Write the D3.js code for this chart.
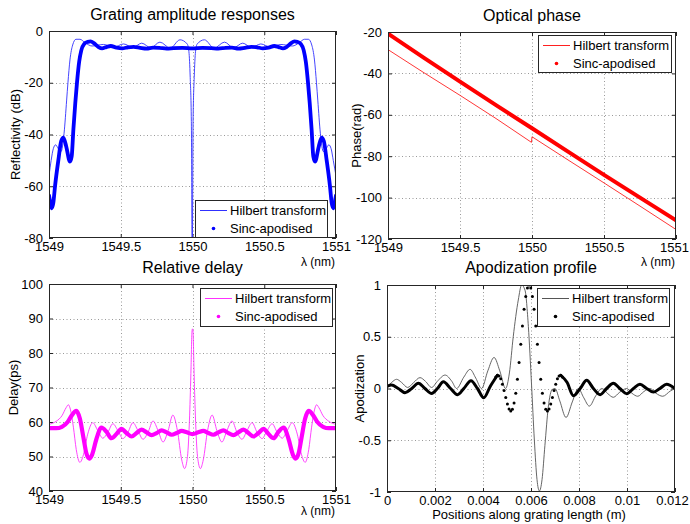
<!DOCTYPE html>
<html><head><meta charset="utf-8">
<script src="https://cdn.jsdelivr.net/npm/d3@7"></script>
<style>
body{margin:0;background:#fff}
svg{display:block}
text{font-family:"Liberation Sans",Arial,Helvetica,sans-serif;fill:#000}
</style>
</head><body>
<svg id="c" width="690" height="524"></svg>
<script>
// ---------------- DATA ----------------
const wlTicks = [1549, 1549.5, 1550, 1550.5, 1551];
const ampTicks = [-80, -60, -40, -20, 0];
const phaseTicks = [-120, -100, -80, -60, -40, -20];
const delayTicks = [40, 50, 60, 70, 80, 90, 100];
const posTicks = [0, 0.002, 0.004, 0.006, 0.008, 0.01, 0.012];
const apoTicks = [-1, -0.5, 0, 0.5, 1];
const seriesNames = ["Hilbert transform", "Sinc-apodised"];

// Grating amplitude responses (lambda nm, dB)
const ampHilbert = [[1549.000,-56],[1549.015,-50],[1549.030,-45.5],[1549.046,-44],[1549.065,-45.5],[1549.084,-46.6],[1549.105,-39.5],[1549.123,-26.7],[1549.132,-20],[1549.146,-11.2],[1549.165,-5.4],[1549.188,-3.2],[1549.216,-3.2],[1549.251,-4.5],[1549.300,-5.8],[1549.380,-5.2],[1549.450,-6.3],[1549.520,-5.0],[1549.585,-6.4],[1549.646,-4.7],[1549.710,-6.5],[1549.773,-4.3],[1549.845,-6.6],[1549.913,-3.4],[1549.963,-5],[1549.975,-8],[1549.984,-18],[1549.992,-35],[1549.998,-90],[1550.004,-35],[1550.012,-18],[1550.021,-8],[1550.033,-5],[1550.083,-3.4],[1550.151,-6.6],[1550.223,-4.3],[1550.286,-6.5],[1550.350,-4.7],[1550.411,-6.4],[1550.476,-5.0],[1550.546,-6.3],[1550.616,-5.2],[1550.696,-5.8],[1550.745,-4.5],[1550.780,-3.2],[1550.808,-3.2],[1550.831,-5.4],[1550.850,-11.2],[1550.864,-20],[1550.873,-26.7],[1550.891,-39.5],[1550.912,-46.6],[1550.931,-45.5],[1550.950,-44],[1550.966,-45.5],[1550.981,-50],[1551.000,-56]];
const ampSinc = [[1549.000,-63.5],[1549.010,-66.5],[1549.019,-68.5],[1549.030,-66.5],[1549.042,-60],[1549.065,-50],[1549.085,-42.5],[1549.100,-41.2],[1549.120,-44.6],[1549.146,-50.5],[1549.158,-48.5],[1549.170,-38],[1549.183,-28],[1549.195,-20],[1549.210,-12],[1549.225,-7.5],[1549.245,-5],[1549.270,-4.2],[1549.290,-4],[1549.315,-4.8],[1549.345,-6.2],[1549.370,-6.7],[1549.400,-6.2],[1549.430,-5.8],[1549.470,-6.4],[1549.510,-6.7],[1549.550,-6.3],[1549.590,-6.1],[1549.635,-6.5],[1549.680,-6.8],[1549.725,-6.4],[1549.770,-6.5],[1549.820,-6.8],[1549.870,-6.6],[1549.930,-6.5],[1550.000,-6.7],[1550.070,-6.5],[1550.130,-6.6],[1550.180,-6.8],[1550.230,-6.5],[1550.275,-6.4],[1550.320,-6.8],[1550.365,-6.5],[1550.410,-6.1],[1550.450,-6.3],[1550.490,-6.7],[1550.530,-6.4],[1550.570,-5.8],[1550.600,-6.2],[1550.630,-6.7],[1550.655,-6.2],[1550.685,-4.8],[1550.710,-4],[1550.730,-4.2],[1550.755,-5],[1550.775,-7.5],[1550.790,-12],[1550.805,-20],[1550.817,-28],[1550.830,-38],[1550.842,-48.5],[1550.854,-50.5],[1550.880,-44.6],[1550.900,-41.2],[1550.915,-42.5],[1550.935,-50],[1550.958,-60],[1550.970,-66.5],[1550.981,-68.5],[1550.990,-66.5],[1551.000,-63.5]];

// Optical phase (lambda nm, rad)
const phaseHilbert = [[1549,-28.5],[1549.25,-39.7],[1549.5,-50.6],[1549.75,-61.8],[1549.996,-73.3],[1550.0,-70.6],[1550.25,-81.8],[1550.5,-92.9],[1550.75,-104.1],[1551,-115.4]];
const phaseSinc = [[1549,-20.8],[1549.25,-32.5],[1549.5,-44],[1549.75,-55.3],[1550,-66.5],[1550.25,-77.8],[1550.5,-89],[1550.75,-100],[1551,-111]];

// Relative delay (lambda nm, ps)
const delayHilbert = [[1549.000,59.3],[1549.050,60.2],[1549.090,61.8],[1549.120,64.2],[1549.135,65],[1549.150,63.5],[1549.170,58.5],[1549.190,52],[1549.215,48.3],[1549.240,50.5],[1549.270,56.5],[1549.305,59.8],[1549.340,57.5],[1549.375,55.3],[1549.410,57],[1549.445,59.5],[1549.480,57.5],[1549.515,55.2],[1549.550,57],[1549.585,59.8],[1549.620,57.5],[1549.655,55],[1549.690,57],[1549.725,60.3],[1549.760,57.5],[1549.795,54.2],[1549.830,57.5],[1549.863,62],[1549.895,57.5],[1549.925,49],[1549.945,46.5],[1549.965,50],[1549.980,62],[1549.990,76],[1549.996,86],[1550.000,87],[1550.004,86],[1550.010,76],[1550.020,62],[1550.035,50],[1550.055,46.5],[1550.075,49],[1550.105,57.5],[1550.137,62],[1550.170,57.5],[1550.205,54.2],[1550.240,57.5],[1550.275,60.3],[1550.310,57],[1550.345,55],[1550.380,57.5],[1550.415,59.8],[1550.450,57],[1550.485,55.2],[1550.520,57.5],[1550.555,59.5],[1550.590,57],[1550.625,55.3],[1550.660,57.5],[1550.695,59.8],[1550.730,56.5],[1550.760,50.5],[1550.785,48.3],[1550.810,52],[1550.830,58.5],[1550.850,63.5],[1550.865,65],[1550.880,64.2],[1550.910,61.8],[1550.950,60.2],[1551.000,59.3]];
const delaySinc = [[1549.000,58.2],[1549.050,58.2],[1549.090,58.6],[1549.130,60],[1549.160,62],[1549.190,63.2],[1549.215,61],[1549.240,55.5],[1549.260,51],[1549.280,49.4],[1549.300,50.5],[1549.330,55],[1549.365,58.4],[1549.400,57.2],[1549.435,55.3],[1549.470,56.5],[1549.505,58],[1549.540,56.8],[1549.575,55.8],[1549.610,56.8],[1549.645,57.8],[1549.680,57],[1549.715,56.2],[1549.750,56.8],[1549.785,57.6],[1549.820,57],[1549.855,56.3],[1549.890,56.8],[1549.925,57.4],[1549.960,57],[1550.000,56.5],[1550.040,57],[1550.075,57.4],[1550.110,56.8],[1550.145,56.3],[1550.180,57],[1550.215,57.6],[1550.250,56.8],[1550.285,56.2],[1550.320,57],[1550.355,57.8],[1550.390,56.8],[1550.425,55.8],[1550.460,56.8],[1550.495,58],[1550.530,56.5],[1550.565,55.3],[1550.600,57.2],[1550.635,58.4],[1550.670,55],[1550.700,50.5],[1550.720,49.4],[1550.740,51],[1550.760,55.5],[1550.785,61],[1550.810,63.2],[1550.840,62],[1550.870,60],[1550.910,58.6],[1550.950,58.2],[1551.000,58.2]];

// Apodization profile (position m, normalised)
const apoHilbert = [[0,0.015],[0.0002,0.06],[0.0004,0.089],[0.0006,0.06],[0.00086,0.01],[0.0011,0.055],[0.001375,0.105],[0.0016,0.07],[0.00186,0.01],[0.0021,0.07],[0.00242,0.13],[0.0027,0.07],[0.0029,0.0],[0.0032,0.11],[0.00346,0.185],[0.0037,0.1],[0.00394,0.0],[0.0042,0.17],[0.00446,0.30],[0.0047,0.17],[0.00494,0.0],[0.0051,0.15],[0.00526,0.5],[0.00547,0.855],[0.00561,1.0],[0.00575,0.95],[0.00589,0.6],[0.00602,0.05],[0.00614,-0.5],[0.00625,-0.88],[0.00635,-0.99],[0.00646,-0.88],[0.00658,-0.55],[0.00672,-0.18],[0.00688,-0.01],[0.00700,0.0],[0.00720,-0.12],[0.00746,-0.28],[0.00772,-0.13],[0.00797,0.0],[0.0082,-0.09],[0.00843,-0.17],[0.0087,-0.07],[0.00895,0.0],[0.0092,-0.05],[0.00943,-0.085],[0.0097,-0.035],[0.00999,0.0],[0.0102,-0.045],[0.01045,-0.075],[0.0107,-0.03],[0.01096,0.0],[0.0112,-0.045],[0.01149,-0.075],[0.0118,-0.025],[0.0120,0.0]];
const apoSincTailLeft = [[0,0.02],[0.00019,0.034],[0.00047,0.0],[0.00075,-0.04],[0.00103,0.0],[0.00131,0.05],[0.00158,0.0],[0.00186,-0.048],[0.0021,0.0],[0.00235,0.065],[0.00265,0.0],[0.00294,-0.06],[0.0032,0.0],[0.0035,0.075],[0.00377,0.0],[0.00403,-0.09],[0.0043,0.02],[0.0046,0.128]];
const apoSincLobe = [[0.004531,0.11],[0.0046,0.128],[0.00467,0.121],[0.004739,0.093],[0.004809,0.04],[0.004878,-0.02],[0.004948,-0.088],[0.005017,-0.15],[0.005087,-0.197],[0.005156,-0.217],[0.005226,-0.20],[0.005295,-0.14],[0.005365,-0.045],[0.005434,0.09],[0.005503,0.252],[0.005573,0.428],[0.005642,0.605],[0.005712,0.765],[0.005781,0.889],[0.005851,0.972],[0.00592,1.0],[0.005989,0.972],[0.006059,0.889],[0.006128,0.765],[0.006198,0.605],[0.006267,0.428],[0.006337,0.252],[0.006406,0.09],[0.006475,-0.045],[0.006545,-0.14],[0.006614,-0.20],[0.006684,-0.217],[0.006753,-0.197],[0.006823,-0.15],[0.006892,-0.088],[0.006962,-0.02],[0.007031,0.04],[0.007101,0.093],[0.00717,0.121],[0.00724,0.128],[0.007309,0.11]];
const apoSincTailRight = [[0.00724,0.128],[0.0075,0.06],[0.00777,-0.07],[0.00805,0.0],[0.00832,0.08],[0.0086,0.0],[0.00888,-0.06],[0.00915,0.0],[0.00943,0.05],[0.0097,0.0],[0.00999,-0.05],[0.01027,0.0],[0.01054,0.04],[0.01082,0.0],[0.0111,-0.035],[0.01137,0.0],[0.01165,0.04],[0.012,0.0]];

// ---------------- DRAW ----------------
const svg = d3.select('#c');
svg.append('rect').attr('width',690).attr('height',524).attr('fill','#fff');
let clipId = 0;

function panel(o){
  const b = o.box;
  const x = d3.scaleLinear().domain(o.xDomain).range([b.l, b.r]);
  const y = d3.scaleLinear().domain(o.yDomain).range([b.b, b.t]);
  const g = svg.append('g');
  g.append('rect').attr('x',b.l).attr('y',b.t).attr('width',b.r-b.l).attr('height',b.b-b.t).attr('fill','#fff');
  // grid
  const grid = g.append('g').attr('stroke','#808080').attr('stroke-width',0.8).attr('stroke-dasharray','1,2.5');
  o.xTicks.forEach(v=>{ const px=Math.round(x(v))+0.5; if(v!==o.xDomain[0]&&v!==o.xDomain[1]) grid.append('line').attr('x1',px).attr('x2',px).attr('y1',b.t).attr('y2',b.b); });
  o.yTicks.forEach(v=>{ const py=Math.round(y(v))+0.5; if(v!==o.yDomain[0]&&v!==o.yDomain[1]) grid.append('line').attr('x1',b.l).attr('x2',b.r).attr('y1',py).attr('y2',py); });
  // axes
  const ax = (gen, tr, labels)=>{
    const a = g.append('g').attr('transform',tr).call(gen);
    a.select('.domain').remove();
    a.selectAll('line').attr('stroke','#262626');
    a.selectAll('text').attr('font-size',13).attr('font-family','"Liberation Sans",Arial,sans-serif').attr('fill','#000');
    if(!labels) a.selectAll('text').remove();
    a.attr('font-family',null).attr('font-size',null);
    return a;
  };
  const xa = ax(d3.axisBottom(x).tickValues(o.xTicks).tickSize(-4).tickPadding(4).tickFormat(o.xFmt), `translate(0,${b.b})`, true);
  if(o.lastShift) xa.selectAll('text').filter(d=>d===o.xDomain[1]).attr('dx',o.lastShift);
  ax(d3.axisTop(x).tickValues(o.xTicks).tickSize(-4).tickFormat(''), `translate(0,${b.t})`, false);
  ax(d3.axisLeft(y).tickValues(o.yTicks).tickSize(-4).tickPadding(6).tickFormat(o.yFmt), `translate(${b.l},0)`, true);
  ax(d3.axisRight(y).tickValues(o.yTicks).tickSize(-4).tickFormat(''), `translate(${b.r},0)`, false);
  // clip
  const cid = 'clip'+(clipId++);
  g.append('clipPath').attr('id',cid).append('rect').attr('x',b.l).attr('y',b.t).attr('width',b.r-b.l).attr('height',b.b-b.t);
  const plot = g.append('g').attr('clip-path',`url(#${cid})`);
  o.series.forEach(s=>{
    const line = d3.line().x(d=>x(d[0])).y(d=>y(d[1])).curve(s.linear ? d3.curveLinear : d3.curveMonotoneX);
    if(s.type==='line'){
      plot.append('path').datum(s.data).attr('d',line).attr('fill','none')
        .attr('stroke',s.color).attr('stroke-width',s.width).attr('stroke-linejoin','round').attr('stroke-linecap','round');
    } else {
      plot.append('g').selectAll('circle').data(s.data).join('circle')
        .attr('cx',d=>x(d[0])).attr('cy',d=>y(d[1])).attr('r',s.r).attr('fill',s.color);
    }
  });
  // frame
  g.append('rect').attr('x',b.l+0.5).attr('y',b.t+0.5).attr('width',b.r-b.l-1).attr('height',b.b-b.t-1)
    .attr('fill','none').attr('stroke','#262626').attr('stroke-width',1);
  // title
  g.append('text').attr('x',(b.l+b.r)/2).attr('y',o.titleY).attr('text-anchor','middle').attr('font-size',16).text(o.title);
  // y label
  g.append('text').attr('transform',`translate(${o.ylabelX},${(b.t+b.b)/2}) rotate(-90)`).attr('text-anchor','middle').attr('font-size',13).text(o.ylabel);
  // x label
  if(o.xlabel){
    g.append('text').attr('x',o.xlabel.x).attr('y',o.xlabel.y).attr('text-anchor',o.xlabel.anchor).attr('font-size',o.xlabel.size).text(o.xlabel.text);
  }
  // legend
  const L = o.legend;
  const lg = g.append('g');
  lg.append('rect').attr('x',L.x+0.5).attr('y',L.y+0.5).attr('width',L.w).attr('height',L.h).attr('fill','#fff').attr('stroke','#262626').attr('stroke-width',1);
  lg.append('line').attr('x1',L.x+5).attr('x2',L.x+32).attr('y1',L.y+10.5).attr('y2',L.y+10.5).attr('stroke',L.c1).attr('stroke-width',1);
  lg.append('text').attr('x',L.x+35).attr('y',L.y+15).attr('font-size',13).text(seriesNames[0]);
  lg.append('circle').attr('cx',L.x+18.5).attr('cy',L.y+28.5).attr('r',1.8).attr('fill',L.c2);
  lg.append('text').attr('x',L.x+35).attr('y',L.y+33).attr('font-size',13).text(seriesNames[1]);
  return {x,y};
}

const wlFmt = d=>String(d);
const numFmt = d=>String(d);

panel({
  box:{l:49,r:336,t:31,b:238}, xDomain:[1549,1551], yDomain:[-80,0],
  xTicks:wlTicks, yTicks:ampTicks, xFmt:wlFmt, yFmt:numFmt,
  title:'Grating amplitude responses', titleY:20, ylabel:'Reflectivity (dB)', ylabelX:20,
  xlabel:{text:'λ (nm)', x:335, y:266, anchor:'end', size:12},
  series:[{type:'line',data:ampHilbert,color:'#3030ff',width:0.9},{type:'line',data:ampSinc,color:'#0000ff',width:3.8}],
  legend:{x:195,y:200,w:132,h:37,c1:'#3030ff',c2:'#0000ff'}
});
panel({
  box:{l:388,r:676,t:32,b:239}, xDomain:[1549,1551], yDomain:[-120,-20],
  xTicks:wlTicks, yTicks:phaseTicks, xFmt:wlFmt, yFmt:numFmt, lastShift:-2,
  title:'Optical phase', titleY:21, ylabel:'Phase(rad)', ylabelX:361,
  xlabel:{text:'λ (nm)', x:675, y:266, anchor:'end', size:12},
  series:[{type:'line',data:phaseHilbert,color:'#ff2020',width:0.9,linear:true},{type:'line',data:phaseSinc,color:'#ff0000',width:4,linear:true}],
  legend:{x:538,y:35,w:133,h:37,c1:'#ff2020',c2:'#ff0000'}
});
panel({
  box:{l:49,r:336,t:284,b:491}, xDomain:[1549,1551], yDomain:[40,100],
  xTicks:wlTicks, yTicks:delayTicks, xFmt:wlFmt, yFmt:numFmt,
  title:'Relative delay', titleY:273, ylabel:'Delay(ps)', ylabelX:18,
  xlabel:{text:'λ (nm)', x:335, y:515, anchor:'end', size:12},
  series:[{type:'line',data:delayHilbert,color:'#ff30ff',width:0.9},{type:'line',data:delaySinc,color:'#ff00ff',width:4.2}],
  legend:{x:200,y:288,w:132,h:38,c1:'#ff30ff',c2:'#ff00ff'}
});
panel({
  box:{l:387,r:675,t:285,b:492}, xDomain:[0,0.012], yDomain:[-1,1],
  xTicks:posTicks, yTicks:apoTicks, xFmt:numFmt, yFmt:numFmt, lastShift:-3,
  title:'Apodization profile', titleY:273, ylabel:'Apodization', ylabelX:364,
  xlabel:{text:'Positions along grating length (m)', x:529, y:519, anchor:'middle', size:13},
  series:[{type:'line',data:apoHilbert,color:'#555555',width:0.9},
          {type:'line',data:apoSincTailLeft,color:'#000',width:3},
          {type:'line',data:apoSincTailRight,color:'#000',width:3},
          {type:'dots',data:apoSincLobe,color:'#000',r:1.5}],
  legend:{x:537,y:288,w:132,h:38,c1:'#555555',c2:'#000'}
});
</script>
</body></html>
